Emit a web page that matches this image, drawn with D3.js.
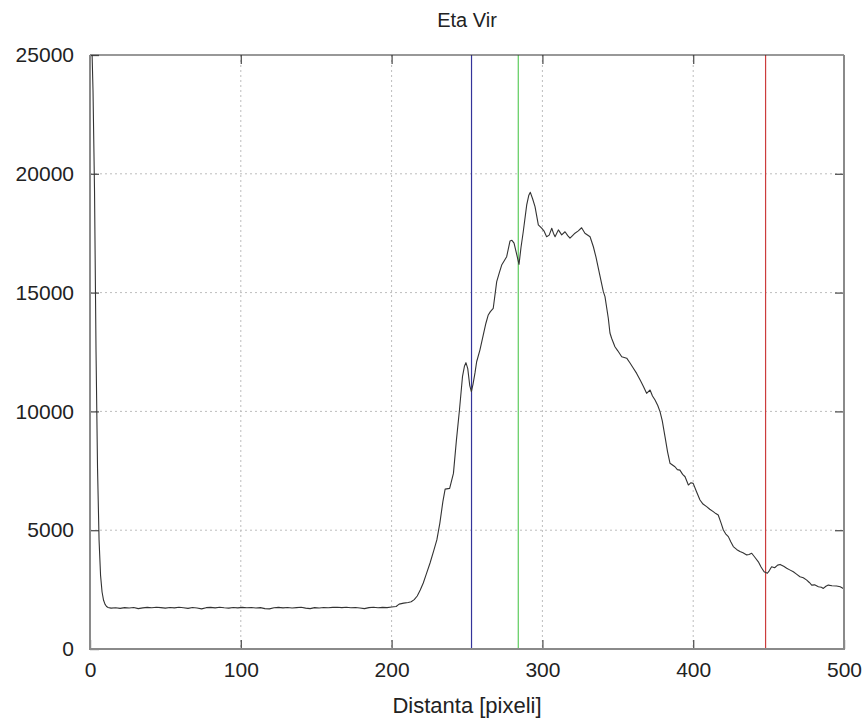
<!DOCTYPE html>
<html>
<head>
<meta charset="utf-8">
<script src="https://d3js.org/d3.v7.min.js"></script>
<style>
  body { margin: 0; background: #fff; }
  svg text { font-family: "Liberation Sans", Arial, sans-serif; fill: #222; }
</style>
</head>
<body>
<div id="profile-chart"></div>
<script>
// Eta Vir intensity profile

// Distance along the slit (pixels)
const distance = [
    0, 1, 2, 3, 4, 5, 6, 7, 8, 9, 10, 11, 12, 14, 17, 20, 23, 26, 29, 32, 35, 38, 41, 44, 47,
    50, 53, 56, 59, 62, 65, 68, 71, 74, 77, 80, 83, 86, 89, 92, 95, 98, 101, 104, 107, 110,
    113, 116, 119, 122, 125, 128, 131, 134, 137, 140, 143, 146, 149, 152, 155, 158, 161, 164,
    167, 170, 173, 176, 179, 182, 185, 188, 191, 194, 197, 200, 203, 205, 208, 211, 213, 215,
    217, 219, 221, 223, 225.5, 228, 230, 232, 234, 235.5, 238.5, 241, 243, 245, 247, 248.3,
    249.3, 250.5, 251.8, 252.9, 254, 255.3, 256.4, 258.6, 260.8, 262.5, 264.1, 265.5, 267.4,
    269.7, 271.5, 273, 276.3, 278.5, 279.8, 281.2, 283, 284.5, 285.8, 287.3, 289.6, 291, 292,
    293.5, 295.1, 297.3, 299.5, 301, 302.8, 304.5, 306.2, 307.3, 308.4, 310.6, 312.8, 315,
    316.8, 318.3, 320, 321.6, 323.8, 326, 328.2, 331.6, 333.8, 335.5, 337.5, 340.4, 341.5,
    343.7, 344.8, 345.9, 348.1, 350, 352.6, 355.9, 358, 360, 362.5, 365, 367, 369.1, 371.4,
    373, 374.7, 376.5, 378, 379.5, 381.3, 383, 384.6, 387.9, 389.5, 391.2, 393, 394.6, 396.8,
    398.5, 400, 402, 404.5, 406.5, 408.9, 411, 413.3, 415, 416.6, 418.5, 420, 421.5, 423.3,
    425, 426.6, 429, 431, 433, 435.5, 437, 438.8, 441, 443.2, 445, 447, 449.2, 450.5, 452,
    454, 456, 457.6, 460, 462, 464, 466.4, 468.5, 470.8, 473, 475.3, 477, 478.6, 480.5, 483,
    485, 486.3, 488, 489.6, 492, 495.1, 497.5, 499.5, 500
];

// Measured intensity at each distance
const intensity = [
    28000, 26000, 23500, 19300, 12500, 7600, 4600, 3100, 2400, 2050, 1880, 1790, 1750, 1720,
    1735, 1710, 1740, 1725, 1745, 1700, 1730, 1750, 1735, 1760, 1740,
    1720, 1745, 1730, 1755, 1735, 1710, 1745, 1725, 1690, 1740, 1750, 1730, 1755, 1735, 1720,
    1745, 1730, 1750, 1735, 1745, 1725,
    1740, 1700, 1690, 1735, 1750, 1730, 1745, 1725, 1740, 1755, 1720, 1700, 1740, 1725, 1745,
    1735, 1750, 1760,
    1740, 1755, 1735, 1745, 1725, 1700, 1740, 1760, 1735, 1750, 1740, 1765, 1790, 1890, 1930,
    1960, 1990, 2080,
    2230, 2480, 2780, 3150, 3620, 4150, 4590, 5300, 6200, 6730, 6760, 7390, 8800, 10060, 11460,
    11900,
    12050, 11800, 11100, 10830, 11150, 11620, 12090, 12590, 13220, 13700, 14060, 14200, 14340,
    15460, 15850, 16160, 16510, 17170, 17200, 17080, 16600, 16190, 16900, 17560, 18690, 19100,
    19220,
    18950, 18620, 17850, 17710, 17600, 17350, 17420, 17710, 17500, 17350, 17640, 17430, 17560,
    17400, 17290, 17400, 17500, 17600, 17730, 17500, 17350, 16930, 16500, 15900, 15040, 14830,
    13920, 13300, 13080, 12720, 12550, 12300, 12240, 12050, 11850, 11600, 11300, 11050, 10760,
    10900,
    10650, 10480, 10250, 9990, 9600, 8940, 8300, 7820, 7670, 7550, 7530, 7350, 7250, 6900,
    7000, 6970, 6650, 6270, 6100, 5990, 5880, 5780, 5700, 5640, 5300, 5010, 4850, 4730,
    4500, 4310, 4180, 4100, 4050, 3960, 3980, 4030, 3850, 3670, 3450, 3250, 3190, 3300, 3460,
    3420, 3530, 3560, 3480, 3400, 3330, 3250, 3150, 3040, 3000, 2900, 2800, 2690, 2700, 2620,
    2600, 2550, 2640, 2690, 2660, 2650, 2620, 2550, 2540
];

// Vertical marker lines
const markerPos = [253, 284, 448];
const markerColor = ["#34349a", "#5ccc5c", "#cc3c3c"];

// Axis ticks
const xTicks = [0, 100, 200, 300, 400, 500];
const yTicks = [0, 5000, 10000, 15000, 20000, 25000];

const titleText = "Eta Vir";
const xLabelText = "Distanta [pixeli]";

const margin = { top: 55, right: 18, bottom: 69, left: 90 };
const fullWidth = 862;
const fullHeight = 718;
const width = fullWidth - margin.left - margin.right;
const height = fullHeight - margin.top - margin.bottom;

const data = distance.map((d, i) => ({ x: d, y: intensity[i] }));

const svg = d3.select("#profile-chart")
    .append("svg")
    .attr("width", fullWidth)
    .attr("height", fullHeight);

const g = svg.append("g")
    .attr("transform", `translate(${margin.left},${margin.top})`);

const x = d3.scaleLinear().domain([0, 500]).range([0, width]);
const y = d3.scaleLinear().domain([0, 25000]).range([height, 0]);

// Dotted grid (inner lines only)
g.append("g")
    .selectAll("line")
    .data(xTicks.slice(1, -1))
    .enter()
    .append("line")
    .attr("x1", d => x(d)).attr("x2", d => x(d))
    .attr("y1", 0).attr("y2", height)
    .attr("stroke", "#bdbdbd")
    .attr("stroke-dasharray", "2,3");

g.append("g")
    .selectAll("line")
    .data(yTicks.slice(1, -1))
    .enter()
    .append("line")
    .attr("x1", 0).attr("x2", width)
    .attr("y1", d => y(d)).attr("y2", d => y(d))
    .attr("stroke", "#bdbdbd")
    .attr("stroke-dasharray", "2,3");

// Axes with inward ticks
const tickStyle = sel => {
    sel.select(".domain").remove();
    sel.selectAll(".tick line").attr("stroke", "#555").attr("stroke-width", 1.3);
    sel.selectAll(".tick text").style("font-size", "21px").attr("fill", "#222");
};

g.append("g")
    .call(d3.axisLeft(y).tickValues(yTicks).tickSize(-9).tickPadding(16).tickFormat(d3.format("d")))
    .call(tickStyle);

g.append("g")
    .attr("transform", `translate(${width},0)`)
    .call(d3.axisRight(y).tickValues(yTicks.slice(1, -1)).tickSize(-9).tickFormat(""))
    .call(tickStyle);

g.append("g")
    .attr("transform", `translate(0,${height})`)
    .call(d3.axisBottom(x).tickValues(xTicks).tickSize(-9).tickPadding(13))
    .call(tickStyle);

g.append("g")
    .call(d3.axisTop(x).tickValues(xTicks.slice(1, -1)).tickSize(-9).tickFormat(""))
    .call(tickStyle);

// Clip for the profile curve
g.append("clipPath")
    .attr("id", "plot-clip")
    .append("rect")
    .attr("width", width)
    .attr("height", height);

// Marker lines
g.append("g")
    .selectAll("line")
    .data(markerPos)
    .enter()
    .append("line")
    .attr("x1", d => x(d)).attr("x2", d => x(d))
    .attr("y1", 0).attr("y2", height)
    .attr("stroke", (d, i) => markerColor[i])
    .attr("stroke-width", 1.2);

// Profile line
const line = d3.line()
    .x(d => x(d.x))
    .y(d => y(d.y));

g.append("path")
    .datum(data)
    .attr("clip-path", "url(#plot-clip)")
    .attr("fill", "none")
    .attr("stroke", "#333")
    .attr("stroke-width", 1.1)
    .attr("stroke-linejoin", "round")
    .attr("d", line);

// Frame
g.append("line")
    .attr("x1", 0).attr("x2", width).attr("y1", 0).attr("y2", 0)
    .attr("stroke", "#333").attr("stroke-width", 1.2);
g.append("path")
    .attr("d", `M0,0V${height}H${width}V0`)
    .attr("fill", "none")
    .attr("stroke", "#8a8a8a")
    .attr("stroke-width", 2);

// Title and axis label
svg.append("text")
    .attr("x", margin.left + width / 2)
    .attr("y", 27)
    .attr("text-anchor", "middle")
    .style("font-size", "20px")
    .text(titleText);

svg.append("text")
    .attr("x", margin.left + width / 2)
    .attr("y", 713)
    .attr("text-anchor", "middle")
    .style("font-size", "22px")
    .text(xLabelText);
</script>
</body>
</html>
